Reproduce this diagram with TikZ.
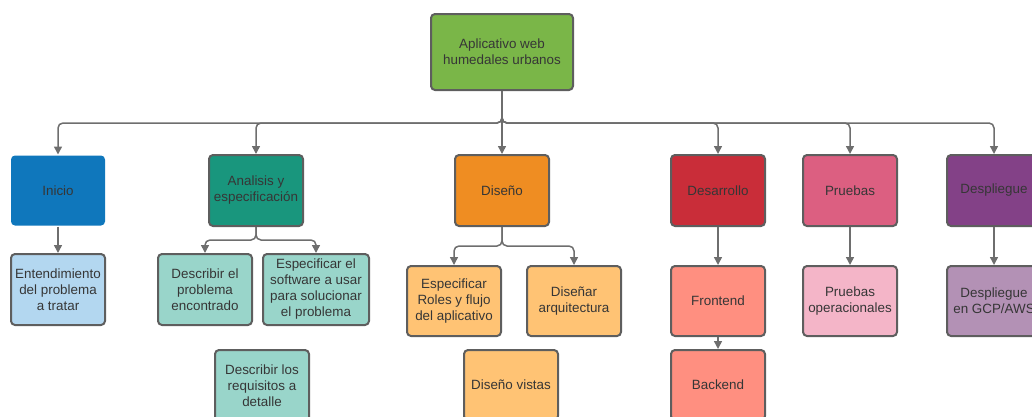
\documentclass[tikz,border=0pt]{standalone}
\usepackage{fontspec}
\setmainfont{Liberation Sans}
\usetikzlibrary{arrows.meta}

\definecolor{ink}{HTML}{363636}
\definecolor{edge}{HTML}{5E5E5E}
\definecolor{wire}{HTML}{6E6E6E}
\definecolor{cRoot}{HTML}{7AB648}
\definecolor{cIni}{HTML}{0F77BC}
\definecolor{cAna}{HTML}{19967D}
\definecolor{cDis}{HTML}{EF8D22}
\definecolor{cDes}{HTML}{C92D39}
\definecolor{cPru}{HTML}{DC5F81}
\definecolor{cDep}{HTML}{834187}
\definecolor{lIni}{HTML}{B3D7F0}
\definecolor{lAna}{HTML}{99D5CA}
\definecolor{lDis}{HTML}{FFC374}
\definecolor{lDes}{HTML}{FF8F80}
\definecolor{lPru}{HTML}{F4B5C8}
\definecolor{lDep}{HTML}{B391B5}

\tikzset{
  card/.style={rectangle, rounded corners=4pt, draw=edge, line width=2pt,
    minimum width=94pt, minimum height=70pt, inner sep=2pt, align=center,
    text=ink, font=\fontsize{13.4}{16}\selectfont},
  plaincard/.style={card, draw=none, minimum width=94pt, minimum height=70pt},
  conn/.style={draw=wire, line width=1.5pt, rounded corners=5pt,
    -{Triangle[length=8pt,width=8pt]}},
  link/.style={draw=wire, line width=1.5pt, rounded corners=5pt}
}

\begin{document}
\begin{tikzpicture}[x=1pt,y=-1pt]
\useasboundingbox (0,0) rectangle (1032,416);
\clip (0,0) rectangle (1032,416);

% root
\node[card, fill=cRoot, minimum width=142pt, minimum height=76pt] (root) at (502,52)
  {Aplicativo web\\humedales urbanos};

% phases
\node[plaincard, fill=cIni] (inicio) at (58,190.5) {Inicio};
\node[card, fill=cAna, minimum height=71pt] (analisis) at (256,190.5) {Analisis y\\especificación};
\node[card, fill=cDis, minimum height=71pt] (diseno) at (502,190.5) {Diseño};
\node[card, fill=cDes, minimum height=71pt] (desarrollo) at (718,190.5) {Desarrollo};
\node[card, fill=cPru, minimum height=71pt] (pruebas) at (850,190.5) {Pruebas};
\node[card, fill=cDep, minimum height=71pt] (despliegue) at (994,190.5) {Despliegue};

% tasks
\node[card, fill=lIni, minimum height=71pt] (entend) at (58,289.5) {Entendimiento\\del problema\\a tratar};
\node[card, fill=lAna, minimum height=71pt] (descprob) at (205,289.5) {Describir el\\problema\\encontrado};
\node[card, fill=lAna, minimum width=106pt, minimum height=71pt] (espsoft) at (316,289.5) {Especificar el\\software a usar\\para solucionar\\el problema};
\node[card, fill=lAna, minimum height=71pt] (descreq) at (262,385.5) {Describir los\\requisitos a\\detalle};
\node[card, fill=lDis] (esproles) at (454,301) {Especificar\\Roles y flujo\\del aplicativo};
\node[card, fill=lDis] (disarq) at (574,301) {Diseñar\\arquitectura};
\node[card, fill=lDis] (disvistas) at (511,385) {Diseño vistas};
\node[card, fill=lDes] (frontend) at (718,301) {Frontend};
\node[card, fill=lDes] (backend) at (718,385) {Backend};
\node[card, fill=lPru] (pruebasop) at (850,301) {Pruebas\\operacionales};
\node[card, fill=lDep] (despgcp) at (994,301) {Despliegue\\en GCP/AWS};

% bus under the root
\coordinate (bus) at (502,123);
\draw[conn] (root.south) |- (inicio.north |- bus) -- (inicio.north);
\draw[conn] (root.south) |- (analisis.north |- bus) -- (analisis.north);
\draw[conn] (root.south) -- (diseno.north);
\draw[conn] (root.south) |- (desarrollo.north |- bus) -- (desarrollo.north);
\draw[conn] (root.south) |- (pruebas.north |- bus) -- (pruebas.north);
\draw[conn] (root.south) |- (despliegue.north |- bus) -- (despliegue.north);

% phase to task links
\draw[conn] (inicio.south) -- (entend.north);
\coordinate (asplit) at (256,240);
\draw[conn] (analisis.south) |- (descprob.north |- asplit) -- (descprob.north);
\draw[conn] (analisis.south) |- (espsoft.north |- asplit) -- (espsoft.north);
\coordinate (dsplit) at (502,246);
\draw[conn] (diseno.south) |- (esproles.north |- dsplit) -- (esproles.north);
\draw[conn] (diseno.south) |- (disarq.north |- dsplit) -- (disarq.north);
\draw[conn] (desarrollo.south) -- (frontend.north);
\draw[conn] (frontend.south) -- (backend.north);
\draw[conn] (pruebas.south) -- (pruebasop.north);
\draw[conn] (despliegue.south) -- (despgcp.north);
\end{tikzpicture}
\end{document}
